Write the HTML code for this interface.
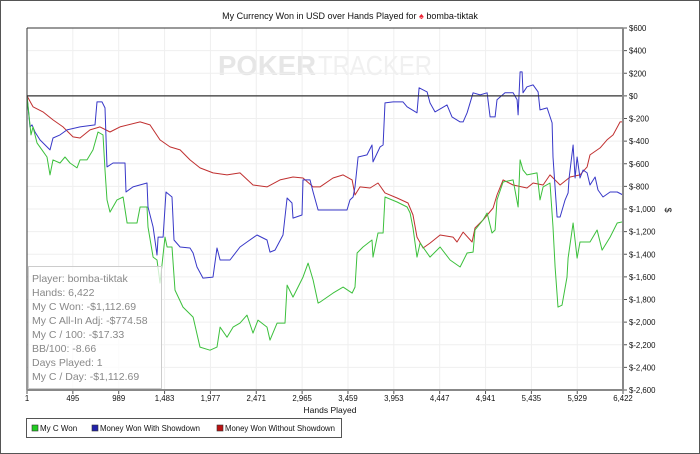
<!DOCTYPE html>
<html><head><meta charset="utf-8">
<style>
html,body{margin:0;padding:0;background:#fff;}
#wrap{position:relative;width:700px;height:454px;overflow:hidden;font-family:"Liberation Sans",sans-serif;}
svg text{font-family:"Liberation Sans",sans-serif;}
</style></head>
<body>
<div id="wrap">
<svg id="chart" width="700" height="454" xmlns="http://www.w3.org/2000/svg">
<rect x="0.5" y="0.5" width="699" height="453" fill="#fff" stroke="#555" stroke-width="1"/>
<text x="350" y="19" font-size="9" text-anchor="middle" fill="#111">My Currency Won in USD over Hands Played for <tspan fill="#e23">♠</tspan> bomba-tiktak</text>
<g>
<text x="218" y="75" font-size="28" font-weight="bold" fill="#e6e6e6" textLength="98" lengthAdjust="spacingAndGlyphs">POKER</text>
<text x="318" y="75" font-size="28" fill="#f0f0f0" textLength="114" lengthAdjust="spacingAndGlyphs">TRACKER</text>
</g>
<g id="grid"></g>
<g id="series"></g>
<g id="axes"></g>
<g>
<rect x="28.5" y="266.5" width="133" height="122" fill="#fff" fill-opacity="0.75" stroke="#ccc"/>
<g font-size="10.5" fill="#888">
<text x="32" y="282">Player: bomba-tiktak</text>
<text x="32" y="296">Hands: 6,422</text>
<text x="32" y="310">My C Won: -$1,112.69</text>
<text x="32" y="324">My C All-In Adj: -$774.58</text>
<text x="32" y="338">My C / 100: -$17.33</text>
<text x="32" y="352">BB/100: -8.66</text>
<text x="32" y="366">Days Played: 1</text>
<text x="32" y="380">My C / Day: -$1,112.69</text>
</g></g>
<text x="330" y="413" font-size="8.5" text-anchor="middle" fill="#111">Hands Played</text>
<text x="665" y="210" font-size="9" text-anchor="middle" fill="#111" transform="rotate(90 665 210)">$</text>
<g>
<rect x="26.5" y="418.5" width="315" height="19" fill="#fff" stroke="#555"/>
<g><rect x="32" y="425" width="6" height="6" fill="#2c2" stroke="#333" stroke-width="0.6"/><text x="40" y="431" font-size="8" fill="#111">My C Won</text></g>
<g><rect x="92" y="425" width="6" height="6" fill="#22a" stroke="#333" stroke-width="0.6"/><text x="100" y="431" font-size="8" fill="#111" textLength="100" lengthAdjust="spacingAndGlyphs">Money Won With Showdown</text></g>
<g><rect x="217" y="425" width="6" height="6" fill="#b11" stroke="#333" stroke-width="0.6"/><text x="225" y="431" font-size="8" fill="#111" textLength="110" lengthAdjust="spacingAndGlyphs">Money Won Without Showdown</text></g>
</g>
</svg>
</div>
<script>
const xTicks = [1,495,989,1483,1977,2471,2965,3459,3953,4447,4941,5435,5929,6422];
const yTicks = [600,400,200,0,-200,-400,-600,-800,-1000,-1200,-1400,-1600,-1800,-2000,-2200,-2400,-2600];
const greenHands = [1,44,66,109,163,217,249,281,357,410,464,540,572,647,712,766,820,841,863,895,971,1036,1079,1186,1219,1294,1305,1359,1402,1434,1488,1510,1563,1596,1682,1790,1865,1973,2048,2081,2156,2221,2296,2371,2436,2490,2587,2619,2695,2781,2803,2867,2975,3029,3083,3137,3158,3298,3406,3503,3535,3557,3621,3718,3729,3783,3837,3858,3988,4096,4128,4160,4203,4236,4343,4451,4559,4667,4742,4807,4828,4914,4958,5011,5044,5065,5130,5238,5292,5313,5345,5388,5496,5528,5561,5636,5668,5690,5722,5765,5819,5830,5884,5927,5959,6067,6143,6197,6283,6359,6422];
const greenValues = [0,-345,-274,-416,-478,-540,-699,-566,-593,-540,-593,-637,-566,-566,-478,-319,-345,-655,-920,-1027,-920,-894,-1124,-1124,-982,-982,-1159,-1425,-1451,-1655,-1248,-1336,-1336,-1717,-1867,-1956,-2221,-2248,-2221,-2044,-2133,-2044,-2009,-1938,-2097,-1982,-2044,-2159,-2009,-2009,-1673,-1779,-1602,-1478,-1628,-1832,-1823,-1743,-1690,-1743,-1690,-1389,-1336,-1274,-1425,-1212,-1212,-894,-938,-982,-1035,-1168,-1425,-1301,-1425,-1336,-1451,-1513,-1389,-1381,-1186,-1097,-1035,-1212,-1186,-920,-761,-743,-982,-566,-655,-699,-681,-920,-805,-770,-1159,-1513,-1867,-1850,-1602,-1434,-1124,-1434,-1292,-1292,-1186,-1363,-1248,-1124,-1113];
const blueHands = [1,33,55,87,141,249,281,357,432,572,734,755,809,841,863,928,1057,1068,1143,1294,1305,1359,1402,1413,1467,1499,1563,1585,1650,1757,1790,1833,1897,2005,2048,2081,2188,2296,2371,2479,2587,2619,2673,2759,2803,2856,2867,2964,2975,3050,3083,3137,3449,3481,3514,3535,3568,3664,3718,3729,3805,3837,3858,3945,4052,4096,4203,4225,4311,4343,4397,4526,4580,4667,4699,4742,4807,4882,4958,4990,5044,5065,5151,5238,5281,5292,5313,5335,5345,5388,5453,5507,5528,5604,5658,5668,5712,5744,5798,5830,5841,5884,5906,5927,5959,5992,6035,6067,6121,6153,6207,6283,6359,6422];
const blueValues = [0,-274,-257,-319,-389,-478,-372,-345,-301,-274,-257,-53,-53,-106,-628,-593,-593,-850,-805,-770,-982,-1159,-1407,-1248,-1248,-850,-894,-1274,-1336,-1345,-1389,-1513,-1611,-1602,-1345,-1451,-1451,-1336,-1292,-1230,-1274,-1381,-1363,-1230,-903,-947,-1080,-1053,-743,-743,-850,-1009,-1009,-920,-894,-805,-540,-522,-434,-584,-451,-434,-62,-53,-53,-97,-150,71,35,-62,-142,-80,-186,-230,-230,-150,27,9,27,-186,-186,-35,27,27,-35,-168,212,212,27,80,97,35,-124,-106,-239,-540,-1071,-1071,-920,-858,-726,-434,-726,-540,-726,-655,-681,-788,-717,-832,-894,-850,-850,-876];
const redHands = [1,66,173,281,389,497,572,680,788,895,1003,1219,1326,1434,1542,1650,1757,1865,2005,2156,2296,2436,2587,2727,2867,2975,3083,3158,3298,3406,3503,3535,3589,3697,3783,3858,3988,4106,4160,4203,4268,4343,4451,4591,4634,4699,4796,4828,4914,5022,5065,5130,5238,5388,5453,5561,5636,5744,5852,5959,6035,6067,6175,6250,6315,6391,6422];
const redValues = [0,-97,-142,-212,-274,-363,-372,-301,-274,-319,-274,-230,-257,-389,-451,-478,-566,-637,-681,-699,-681,-788,-805,-743,-717,-726,-805,-805,-726,-699,-743,-876,-805,-814,-770,-858,-903,-947,-1053,-1248,-1345,-1301,-1230,-1248,-1292,-1204,-1292,-1168,-1097,-991,-876,-743,-788,-814,-770,-788,-699,-788,-717,-699,-628,-522,-460,-389,-345,-230,-230];

const NS='http://www.w3.org/2000/svg';
const L=27,R=623,T=28,B=390;
const xS=h=>L+(h-1)/(6422-1)*(R-L);
const yS=v=>T+(600-v)/(3200)*(B-T);
function mk(tag,attrs,parent){const e=document.createElementNS(NS,tag);for(const k in attrs)e.setAttribute(k,attrs[k]);parent.appendChild(e);return e;}
const grid=document.getElementById('grid'),axes=document.getElementById('axes'),series=document.getElementById('series');
xTicks.forEach(h=>{
  const x=xS(h);
  const gl=mk('line',{x1:x,x2:x,y1:T,y2:B,stroke:'#efefef','stroke-width':1},grid);
  
  
  const tk=mk('line',{x1:x,x2:x,y1:B,y2:B+4,stroke:'#555','stroke-width':1},axes);
  
  
  const t=mk('text',{x:x,y:B+11,'font-size':7.8,'text-anchor':'middle',fill:'#111'},axes);
  t.textContent=h.toLocaleString('en-US');
  
  
});
yTicks.forEach(v=>{
  const y=yS(v);
  const gl=mk('line',{x1:L,x2:R,y1:y,y2:y,stroke:'#efefef','stroke-width':1},grid);
  
  
  const tk=mk('line',{x1:R,x2:R+4,y1:y,y2:y,stroke:'#555','stroke-width':1},axes);
  
  
  const t=mk('text',{x:R+6,y:y+3,'font-size':7.8,fill:'#111'},axes);
  t.textContent=v<0?'$-'+Math.abs(v).toLocaleString('en-US'):'$'+v;
  
  
});
const zl=mk('line',{x1:L,x2:R,y1:yS(0),y2:yS(0),stroke:'#333','stroke-width':1.2},axes);


const tl=mk('line',{x1:L,x2:R,y1:T,y2:T,stroke:'#333','stroke-width':1},axes);


const ll=mk('line',{x1:L,x2:L,y1:T,y2:B,stroke:'#333','stroke-width':1},axes);


const ra=mk('line',{x1:R,x2:R,y1:T,y2:B+1,stroke:'#888','stroke-width':2},axes);


const ba=mk('line',{x1:L,x2:R+1,y1:B,y2:B,stroke:'#888','stroke-width':2},axes);


function line(hs,vs,color,name){
  const d=hs.map((h,i)=>(i?'L':'M')+xS(h).toFixed(1)+' '+yS(vs[i]).toFixed(1)).join(' ');
  const p=mk('path',{d:d,fill:'none',stroke:color,'stroke-width':1,'stroke-linejoin':'round'},series);
  
  
}
line(redHands,redValues,'#c03030','series-without-showdown');
line(blueHands,blueValues,'#3838c8','series-with-showdown');
line(greenHands,greenValues,'#3cc03c','series-my-c-won');
</script>
</body></html>
